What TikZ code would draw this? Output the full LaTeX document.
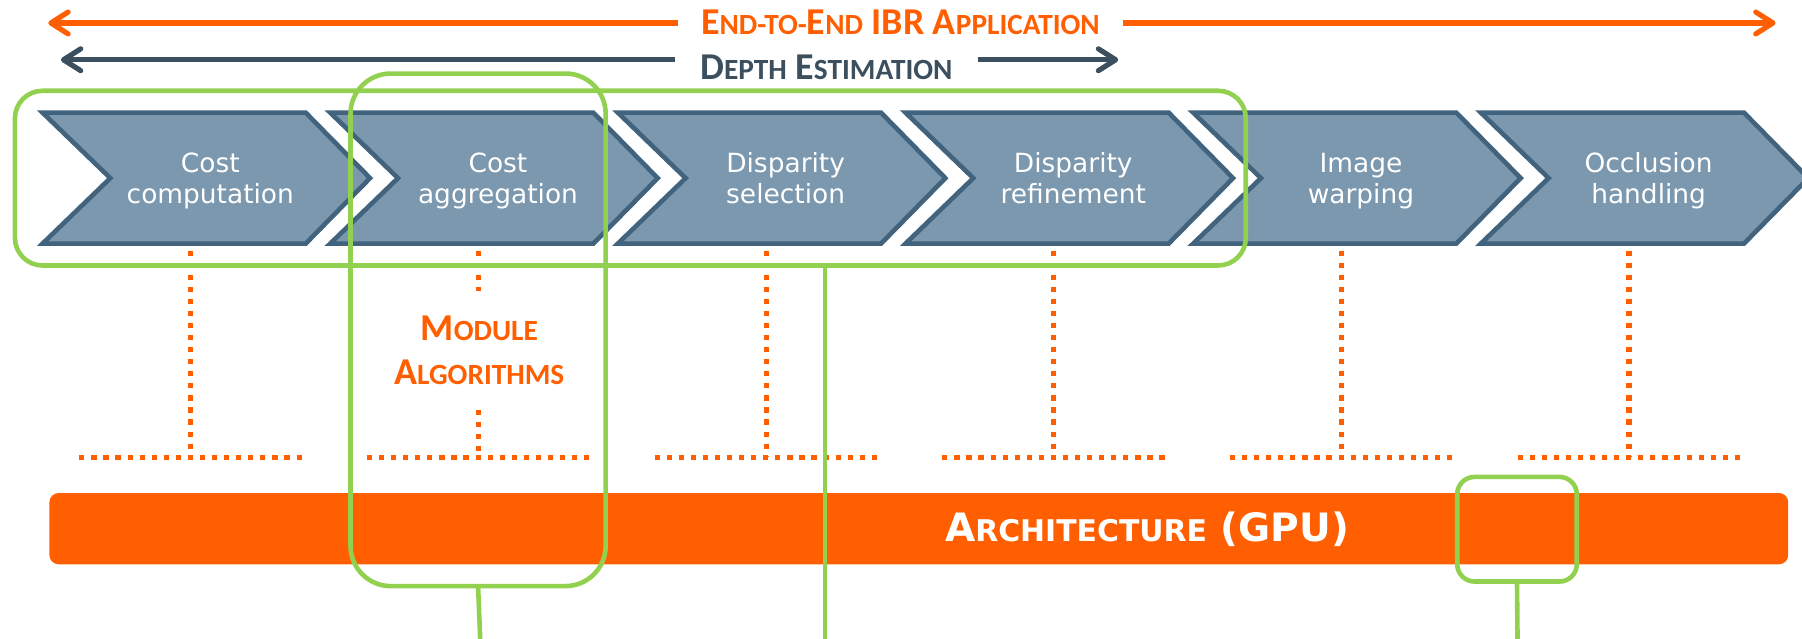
\documentclass[tikz,border=0pt]{standalone}
\usepackage{fontspec}
\setmainfont{DejaVu Sans}
\newfontfamily\calfont{Carlito}
\usetikzlibrary{arrows.meta}
\definecolor{ora}{HTML}{FF5F00}
\definecolor{dsl}{HTML}{3B4F5F}
\definecolor{chfill}{HTML}{7B98AF}
\definecolor{chline}{HTML}{41637E}
\definecolor{grn}{HTML}{92D050}
\newcommand\Bg[1]{{\fontsize{\bigsz}{\bigsz}\selectfont #1}}
\newcommand\Sm[1]{{\fontsize{\smsz}{\smsz}\selectfont #1}}
\begin{document}
\begin{tikzpicture}[x=1pt,y=-1pt,
  barb/.tip={Straight Barb[length=15pt,width=19pt,line cap=round,line join=round]},
  harrow/.style={line width=4.5pt,barb-barb},
  headtext/.style={fill=white,anchor=base,inner xsep=20pt,inner ysep=4pt,
    font=\calfont\bfseries\def\bigsz{33pt}\def\smsz{25.5pt}\fontsize{33pt}{39pt}\selectfont},
  chev/.style={fill=chfill,draw=chline,line width=4pt},
  chevtext/.style={text=white,align=center,anchor=base,inner sep=0pt,
    font=\fontsize{23pt}{27pt}\selectfont},
  dots/.style={draw=ora,line width=4.5pt,dash pattern=on 4.5pt off 6pt},
  grect/.style={draw=grn,line width=4pt,inner sep=0pt,outer sep=0pt},
  gline/.style={draw=grn,line width=4pt}]
\useasboundingbox (0,0) rectangle (1568,556);

% top arrows
\coordinate (oL) at (42,20);
\coordinate (oR) at (1545,20);
\coordinate (dL) at (53,52);
\coordinate (dR) at (973,52);
\draw[harrow,ora] (oL) -- (oR);
\draw[harrow,dsl] (dL) -- (dR);
\node[headtext,text=ora] (etoe) at (783.5,29.6)
  {\Bg{E}\Sm{ND-TO-}\Bg{E}\Sm{ND} \Bg{IBR A}\Sm{PPLICATION}};
\node[headtext,text=dsl,inner xsep=22pt] (depth) at (719,69)
  {\Bg{D}\Sm{EPTH} \Bg{E}\Sm{STIMATION}};

% chevrons
\foreach \i/\a/\b in {0/Cost/computation,1/Cost/aggregation,2/Disparity/selection,
  3/Disparity/refinement,4/Image/warping,5/Occlusion/handling}{
  \pgfmathsetmacro\xo{37+250.3*\i}
  \draw[chev] (\xo,98) -- ++(229,0) -- ++(56,57) -- ++(-56,57) -- ++(-229,0)
    -- ++(59,-57) -- cycle;
  \node[chevtext] (t\i) at (\xo+146,177) {\a\\\b};
}

% module algorithms label
\node[text=ora,align=center,anchor=base,inner xsep=0pt,inner ysep=21pt,
  font=\calfont\bfseries\fontsize{33pt}{39pt}\selectfont\def\bigsz{33pt}\def\smsz{25.5pt}]
  (mod) at (417,335) {\Bg{M}\Sm{ODULE}\\\Bg{A}\Sm{LGORITHMS}};

% dotted lines
\foreach \i in {0,...,5}{
  \pgfmathsetmacro\xv{166+250.3*\i}
  \coordinate (u\i) at (\xv,218);
  \coordinate (d\i) at (\xv,398);
  \coordinate (hl\i) at (\xv-97,398);
  \coordinate (hr\i) at (\xv+97,398);
  \draw[dots] (hl\i) -- (hr\i);
}
\foreach \i in {0,2,3,4,5}{\draw[dots] (u\i) -- (d\i);}
\draw[dots] (u1) -- (u1 |- mod.north);
\draw[dots] (d1 |- mod.south) -- (d1);

% architecture bar
\node[fill=ora,rounded corners=8pt,minimum width=1513pt,minimum height=62pt,
  inner sep=0pt,outer sep=0pt] (arch) at (799.5,460) {};
\node[text=white,anchor=base,inner sep=0pt,
  font=\bfseries\def\bigsz{34pt}\def\smsz{26pt}\fontsize{34pt}{40pt}\selectfont] (archt) at (998,471)
  {\Bg{A}\Sm{RCHITECTURE} \Bg{(GPU)}};

% green highlight boxes
\node[grect,rounded corners=24pt,minimum width=1071pt,minimum height=152pt] (gA) at (548.5,155) {};
\node[grect,rounded corners=35pt,minimum width=222pt,minimum height=446pt] (gB) at (416,287) {};
\node[grect,rounded corners=15pt,minimum width=104pt,minimum height=91pt] (gC) at (1320,460.5) {};
\coordinate (eA) at (718,560);
\coordinate (eB) at (418,560);
\coordinate (eC) at (1320.5,560);
\draw[gline] (eA |- gA.south) -- (eA);
\draw[gline] (gB.south) -- (eB);
\draw[gline] (gC.south) -- (eC);
\end{tikzpicture}
\end{document}
